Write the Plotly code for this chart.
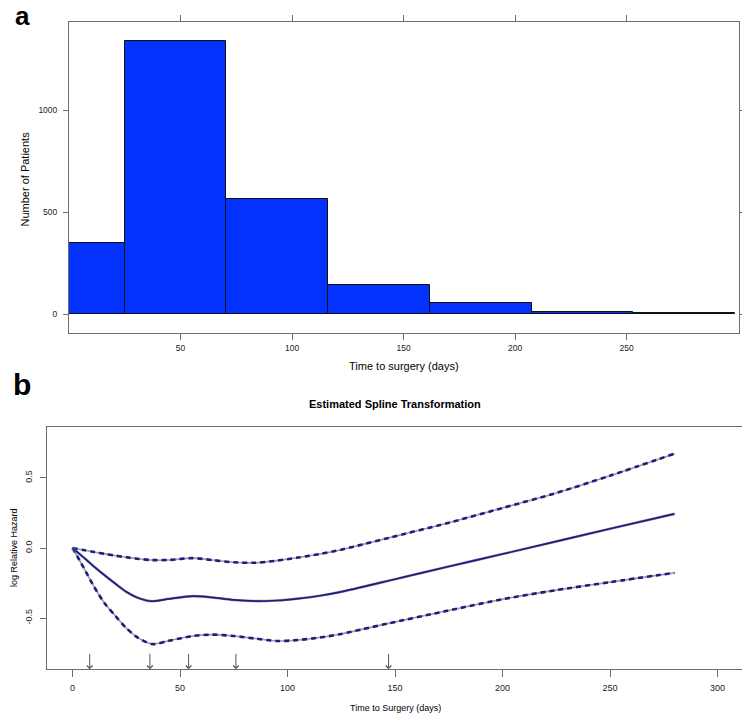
"""
Two-panel figure: histogram of time to surgery (a) and the estimated
spline transformation of log relative hazard with its confidence band (b).
"""

import plotly.graph_objects as go

# ---- panel a: histogram -------------------------------------------------
bin_edges = [-20.6, 25.0, 70.6, 116.2, 161.8, 207.4, 253.0, 298.6]
patient_counts = [351, 1341, 565, 144, 55, 13, 8]
hist_x_ticks = [50, 100, 150, 200, 250]
hist_y_ticks = [0, 500, 1000]

# ---- panel b: spline fit ------------------------------------------------
days = [0, 5, 10, 15, 20, 25, 30, 37, 45, 56, 65, 75, 85, 95, 105, 115,
        125, 135, 147, 175, 200, 225, 250, 280]
spline_fit = [0.0, -0.065, -0.132, -0.195, -0.255, -0.312, -0.352, -0.379,
              -0.362, -0.343, -0.352, -0.370, -0.378, -0.374, -0.360, -0.340,
              -0.312, -0.277, -0.233, -0.132, -0.043, 0.047, 0.137, 0.243]
spline_upper = [0.0, -0.014, -0.028, -0.042, -0.055, -0.066, -0.076, -0.086,
                -0.085, -0.072, -0.086, -0.102, -0.105, -0.090, -0.068, -0.043,
                -0.012, 0.026, 0.072, 0.180, 0.285, 0.392, 0.515, 0.672]
spline_lower = [0.0, -0.135, -0.275, -0.395, -0.485, -0.570, -0.635, -0.684,
                -0.660, -0.627, -0.617, -0.627, -0.645, -0.662, -0.655, -0.638,
                -0.612, -0.578, -0.537, -0.445, -0.365, -0.300, -0.243, -0.177]
knots = [8, 36, 54, 76, 147]
spline_x_ticks = [0, 50, 100, 150, 200, 250, 300]
spline_y_ticks = [-0.5, 0.0, 0.5]
spline_y_labels = ["-0.5", "0.0", "0.5"]

FONT = "Liberation Sans, Arial, sans-serif"
AXIS_GREY = "#6e6e6e"
BAR_BLUE = "#0433ff"
NAVY = "#1c1c86"
GREY = "#9a9a9a"

# the page body adds an 8px margin, so the figure is drawn 8px smaller
OFF = 8
W, H = 750 - OFF, 717 - OFF


def px_x(x):
    return (x - OFF) / W


def px_y(y):
    return 1 - (y - OFF) / H


fig = go.Figure()

# histogram bars
centers = [(a + b) / 2 for a, b in zip(bin_edges[:-1], bin_edges[1:])]
widths = [b - a for a, b in zip(bin_edges[:-1], bin_edges[1:])]
fig.add_trace(
    go.Bar(
        x=centers,
        y=patient_counts,
        width=widths,
        marker={"color": BAR_BLUE, "line": {"color": "#111111", "width": 1}},
        xaxis="x",
        yaxis="y",
        showlegend=False,
    )
)

# spline: grey underlay + navy overlay gives the mixed look of the original
for vals, dash, w_under, w_over in [
    (spline_upper, "5px,4px", 1.6, 2.6),
    (spline_lower, "5px,4px", 1.6, 2.6),
    (spline_fit, "solid", 2.6, 1.7),
]:
    fig.add_trace(
        go.Scatter(
            x=days, y=vals, mode="lines",
            line={"color": GREY, "width": w_under, "shape": "spline",
                  "smoothing": 0.8},
            xaxis="x2", yaxis="y2", showlegend=False, hoverinfo="skip",
        )
    )
    fig.add_trace(
        go.Scatter(
            x=days, y=vals, mode="lines",
            line={"color": NAVY, "width": w_over, "dash": dash,
                  "shape": "spline", "smoothing": 0.8},
            xaxis="x2", yaxis="y2", showlegend=False,
        )
    )

tick_font = {"family": FONT, "size": 8.5, "color": "#222222"}
tick_font_b = {"family": FONT, "size": 9, "color": "#222222"}

common = {
    "showgrid": False,
    "zeroline": False,
    "showline": True,
    "linecolor": AXIS_GREY,
    "linewidth": 1,
    "ticks": "outside",
    "tickcolor": AXIS_GREY,
    "tickwidth": 1,
}

annotations = [
    # panel letters
    {"text": "<b>a</b>", "x": px_x(22), "y": px_y(16), "font": {"size": 26}},
    {"text": "<b>b</b>", "x": px_x(22), "y": px_y(385), "font": {"size": 30}},
    # panel a axis titles
    {"text": "Number of Patients", "x": px_x(25), "y": px_y(179.5),
     "textangle": -90, "font": {"size": 11}},
    {"text": "Time to surgery (days)", "x": px_x(404), "y": px_y(366),
     "font": {"size": 11}},
    # panel b titles
    {"text": "<b>Estimated Spline Transformation</b>", "x": px_x(395),
     "y": px_y(404), "font": {"size": 11}},
    {"text": "log Relative Hazard", "x": px_x(14), "y": px_y(548),
     "textangle": -90, "font": {"size": 9}},
    {"text": "Time to Surgery (days)", "x": px_x(395), "y": px_y(708),
     "font": {"size": 9}},
]
for a in annotations:
    a.update({"xref": "paper", "yref": "paper", "showarrow": False,
              "xanchor": "center", "yanchor": "middle"})
    a["font"] = {"family": FONT, "color": "#000000", **a["font"]}

# knot arrows along the bottom of panel b
for k in knots:
    annotations.append(
        {"x": k, "y": -0.864, "xref": "x2", "yref": "y2", "text": "",
         "showarrow": True, "ax": 0, "ay": -17, "arrowhead": 4,
         "arrowsize": 1.1, "arrowwidth": 1, "arrowcolor": "#555555"}
    )

fig.update_layout(
    width=W,
    height=H,
    margin={"l": 0, "r": 0, "t": 0, "b": 0},
    paper_bgcolor="white",
    plot_bgcolor="white",
    bargap=0,
    font={"family": FONT, "color": "#222222"},
    xaxis={
        **common,
        "domain": [px_x(69), px_x(738.5)],
        "anchor": "y",
        "range": [0, 300.2],
        "tickvals": hist_x_ticks,
        "ticklen": 6,
        "mirror": "ticks",
        "tickfont": tick_font,
    },
    yaxis={
        **common,
        "domain": [px_y(333.3), px_y(22)],
        "anchor": "x",
        "range": [-94, 1434],
        "tickvals": hist_y_ticks,
        "ticklen": 5,
        "mirror": "ticks",
        "tickfont": tick_font,
        "ticklabelstandoff": 4,
    },
    xaxis2={
        **common,
        "domain": [px_x(46.7), px_x(743.3)],
        "anchor": "y2",
        "range": [-12, 312],
        "tickvals": spline_x_ticks,
        "ticklen": 7,
        "mirror": True,
        "tickfont": tick_font_b,
        "ticklabelstandoff": 3,
    },
    yaxis2={
        **common,
        "domain": [px_y(669.3), px_y(426.7)],
        "anchor": "x2",
        "range": [-0.864, 0.864],
        "tickvals": spline_y_ticks,
        "ticktext": spline_y_labels,
        "tickangle": -90,
        "ticklen": 6,
        "mirror": True,
        "tickfont": tick_font_b,
        "ticklabelstandoff": 4,
    },
    annotations=annotations,
)

fig.write_html("out.html")
